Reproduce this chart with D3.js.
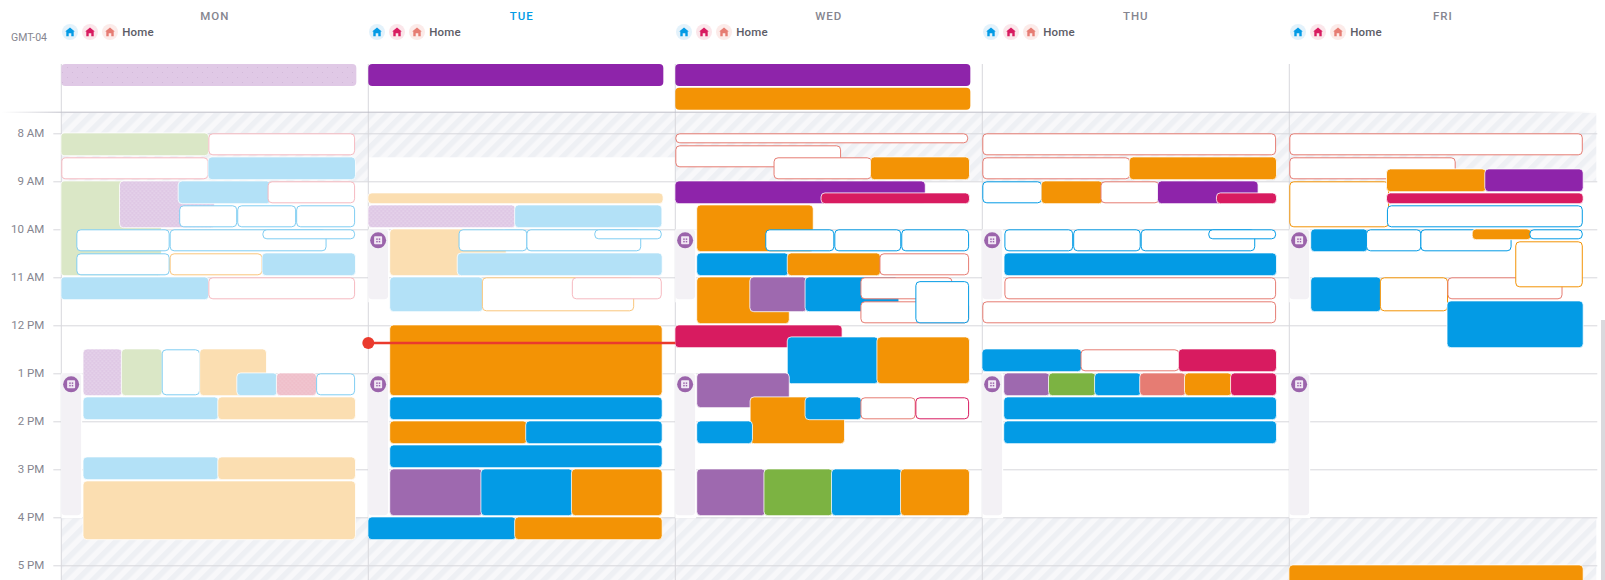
<!DOCTYPE html>
<html>
<head>
<meta charset="utf-8">
<script src="https://d3js.org/d3.v7.min.js"></script>
<style>
html,body{margin:0;padding:0;background:#fff;overflow:hidden}
svg{display:block;font-family:Roboto,sans-serif}
</style>
</head>
<body>
<svg id="chart" width="1605" height="580"></svg>
<script>
// ---------- data ----------
const days = ["MON","TUE","WED","THU","FRI"];
const currentDay = "TUE";
const hourTicks = [8,9,10,11,12,13,14,15,16,17];
const hourLabels = ["8 AM","9 AM","10 AM","11 AM","12 PM","1 PM","2 PM","3 PM","4 PM","5 PM"];
const timezoneLabel = "GMT-04";
const locationLabel = "Home";
const locationKinds = ["blue","crimson","salmon"];
const nowHour = 12.37;
const closedUntil = [9, 8.5, 9, 9, 9];
const closedFrom = 16;
const gutterBlocks = [
  [["MON",13,16]],
  [["TUE",10,11.5],["TUE",13,16]],
  [["WED",10,11.5],["WED",13,16]],
  [["THU",10,11.5],["THU",13,16]],
  [["FRI",10,11.5],["FRI",13,16]]
];
// all-day rows: [day, row, kind]
const allDayEvents = [
  ["MON",0,"purpleSparse"],
  ["TUE",0,"purple"],
  ["WED",0,"purple"],
  ["WED",1,"orange"]
];
// timed rows: [start hour, end hour, lane start %, lane end %, kind]
const monEvents = [
  [8,8.5,0,47.9,"greenL"],[8,8.5,47.9,95.7,"oPinkL"],
  [8.5,9,0,47.9,"oPinkL"],[8.5,9,47.9,95.7,"blueL"],
  [9,11,0,32.5,"greenL"],[9,10,19.1,49.8,"purpleL"],
  [9,9.5,38.2,68,"blueL"],[9,9.5,67.2,95.7,"oPinkL"],
  [9.5,10,38.4,57.3,"oBlueL"],[9.5,10,57.3,76.5,"oBlueL"],[9.5,10,76.5,95.7,"oBlueL"],
  [10,10.5,4.9,35.3,"oBlueL"],[10,10.5,35.3,86.4,"oBlueL"],[10,10.25,65.5,95.7,"oBlueL"],
  [10.5,11,4.9,35.3,"oBlueL"],[10.5,11,35.3,65.5,"oOrangeL"],[10.5,11,65.5,95.7,"blueL"],
  [11,11.5,0,47.9,"blueL"],[11,11.5,47.9,95.7,"oPinkL"],
  [12.5,13.5,7.2,19.7,"purpleL"],[12.5,13.5,19.7,32.7,"greenL"],[12.5,13.5,32.7,45.2,"oBlueL"],[12.5,13.5,45.2,66.7,"peach"],
  [13,13.5,57.3,70.2,"blueL"],[13,13.5,70.2,83,"pinkL"],[13,13.5,83,95.7,"oBlueL"],
  [13.5,14,7.2,51.1,"blueL"],[13.5,14,51.1,95.7,"peach"],
  [14.75,15.25,7.2,51.1,"blueL"],[14.75,15.25,51.1,95.7,"peach"],
  [15.25,16.5,7.2,95.7,"peach"]
];
const tueEvents = [
  [9.25,9.5,0,95.9,"peach"],
  [9.5,10,0,47.8,"purpleL"],[9.5,10,47.8,95.5,"blueL"],
  [10,11,7.1,44.8,"peach"],
  [10,10.5,29.4,51.8,"oBlueL"],[10,10.5,51.5,88.9,"oBlueL"],[10,10.25,73.6,95.6,"oBlueL"],
  [10.5,11,29.1,95.6,"blueL"],
  [11,11.75,7.1,37.2,"blueL"],[11,11.75,37,86.6,"oOrangeL"],[11,11.5,66.3,95.6,"oPinkL"],
  [12,13.5,7.1,95.6,"orange"],
  [13.5,14,7.1,95.6,"blue"],
  [14,14.5,7.1,51.6,"orange"],[14,14.5,51.4,95.6,"blue"],
  [14.5,15,7.1,95.6,"blue"],
  [15,16,7.1,37,"purpleM"],[15,16,36.8,66.5,"blue"],[15,16,66.3,95.6,"orange"],
  [16,16.5,0,48,"blue"],[16,16.5,47.8,95.6,"orange"]
];
const wedEvents = [
  [8,8.25,0,95.4,"oSalmon"],
  [8.25,8.75,0,54,"oSalmon"],
  [8.5,9,32,64,"oSalmon"],[8.5,9,63.7,95.7,"orange"],
  [9,9.5,0,81.3,"purple"],[9.25,9.5,47.6,95.7,"crimson"],
  [9.5,10.5,7.1,44.8,"orange"],
  [10,10.5,29.3,51.8,"oBlue"],[10,10.5,51.8,73.6,"oBlue"],[10,10.5,73.6,95.7,"oBlue"],
  [10.5,11,7.1,36.8,"blue"],[10.5,11,36.6,66.7,"orange"],[10.5,11,66.5,95.7,"oSalmon"],
  [11,12,7.1,37,"orange"],
  [11,11.75,24.4,42.7,"purpleM"],[11,11.75,42.4,72.7,"blue"],
  [11,11.5,60.3,90.3,"oSalmon"],[11.5,12,60.3,95.7,"oSalmon"],[11.08,12,78.2,95.7,"oBlue"],
  [12,12.5,0,54.2,"crimson"],
  [12.25,13.25,36.6,66,"blue"],[12.25,13.25,65.8,95.7,"orange"],
  [13,13.75,7.1,37,"purpleM"],
  [13.5,14.5,24.5,55,"orange"],
  [13.5,14,42.4,60.5,"blue"],[13.5,14,60.3,78.3,"oSalmon"],[13.5,14,78.2,95.7,"oCrimson"],
  [14,14.5,7.1,25,"blue"],
  [15,16,7.1,29.2,"purpleM"],[15,16,29,51.2,"green"],[15,16,51,73.7,"blue"],[15,16,73.5,95.7,"orange"]
];
const thuEvents = [
  [8,8.5,0,95.7,"oSalmon"],
  [8.5,9,0,48.2,"oSalmon"],[8.5,9,48,95.7,"orange"],
  [9,9.5,0,19.5,"oBlue"],[9,9.5,19.3,39.1,"orange"],[9,9.5,38.5,57.7,"oSalmon"],[9,9.5,57.2,89.7,"purple"],[9.25,9.5,76.4,95.7,"crimson"],
  [10,10.5,7.2,29.6,"oBlue"],[10,10.5,29.6,51.6,"oBlue"],[10,10.5,51.6,88.9,"oBlue"],[10,10.25,73.6,95.7,"oBlue"],
  [10.5,11,7.2,95.7,"blue"],
  [11,11.5,7.2,95.7,"oSalmon"],
  [11.5,12,0,95.7,"oSalmon"],
  [12.5,13,0,32.2,"blue"],[12.5,13,32,64.2,"oSalmon"],[12.5,13,64,95.7,"crimson"],
  [13,13.5,7.1,21.9,"purpleM"],[13,13.5,21.7,36.9,"green"],[13,13.5,36.7,51.6,"blue"],[13,13.5,51.4,66.2,"salmon"],[13,13.5,66,81.2,"orange"],[13,13.5,81,95.7,"crimson"],
  [13.5,14,7.1,95.7,"blue"],
  [14,14.5,7.1,95.7,"blue"]
];
const friEvents = [
  [8,8.5,0,95.6,"oSalmon"],
  [8.5,9,0,54.2,"oSalmon"],
  [9,10,0,32.5,"oOrange"],
  [8.75,9.25,31.8,64,"orange"],[8.75,9.25,63.8,95.6,"purple"],
  [9.25,9.5,31.8,95.6,"crimson"],
  [9.5,10,31.8,95.6,"oBlue"],
  [10,10.5,7.1,25.4,"blue"],[10,10.5,25,43,"oBlue"],[10,10.5,42.7,72.4,"oBlue"],
  [10,10.25,59.7,78.6,"orange"],[10,10.25,78.2,95.6,"oBlue"],
  [11,11.75,7.1,29.7,"blue"],[11,11.75,29.5,51.7,"oOrange"],[11,11.5,51.5,89,"oSalmon"],
  [10.25,11.25,73.6,95.6,"oOrange"],
  [11.5,12.5,51.5,95.6,"blue"],
  [17,18,0,95.6,"orange"]
];
const eventsByDay = [monEvents, tueEvents, wedEvents, thuEvents, friEvents];

// ---------- styles ----------
const solid = {
  purple:"#8e24aa", orange:"#f39305", blue:"#039be5", crimson:"#d81b60",
  purpleM:"#9e69af", green:"#7cb342", salmon:"#e67c73",
  peach:"#fbdeb1", blueL:"#b3e1f7", greenL:"#dae7c6",
  purpleL:"url(#dotPurple)", pinkL:"url(#dotPink)", purpleSparse:"url(#dotSparse)"
};
const outline = {
  oSalmon:"#e67c73", oBlue:"#039be5", oOrange:"#f39305", oCrimson:"#d81b60",
  oPinkL:"#f6b9c0", oBlueL:"#7fcdf2", oOrangeL:"#fac67c"
};
const iconColors = {blue:"#039be5", crimson:"#d81b60", salmon:"#e67c73"};
const iconBacks = {blue:"#e3f2fb", crimson:"#fbe6ea", salmon:"#fcebe9"};
const gridColor = "#d8d8dc", mutedText = "#85858f";

// ---------- scales ----------
const svg = d3.select("#chart");
const dayX = d3.scaleBand().domain(days).range([61.3,1596.3]);
const laneX = d3.scaleLinear().domain([0,100]).range([0,dayX.bandwidth()]);
const hourY = d3.scaleLinear().domain([8,17]).range([133.3,565.3]);
const rowY = d3.scaleLinear().domain([0,1]).range([64,87.7]);
const topHour = hourY.invert(113), bottomHour = hourY.invert(580);

// ---------- defs ----------
const defs = svg.append("defs");
const hatch = defs.append("pattern").attr("id","hatch").attr("patternUnits","userSpaceOnUse")
  .attr("width",11).attr("height",11).attr("patternTransform","rotate(45)");
hatch.append("rect").attr("width",11).attr("height",11).attr("fill","#f8f8fa");
hatch.append("rect").attr("width",5.5).attr("height",11).attr("fill","#eef0f4");
function dots(id,bg,dot,size,r){
  const p = defs.append("pattern").attr("id",id).attr("patternUnits","userSpaceOnUse").attr("width",size).attr("height",size);
  p.append("rect").attr("width",size).attr("height",size).attr("fill",bg);
  p.append("circle").attr("cx",size/4).attr("cy",size/4).attr("r",r).attr("fill",dot);
  p.append("circle").attr("cx",size*3/4).attr("cy",size*3/4).attr("r",r).attr("fill",dot);
}
dots("dotPurple","#dfc8e5","#f3eaf6",4,.6);
dots("dotPink","#efbfca","#f6d8df",4,.6);
dots("dotSparse","#e0c9e6","#c4a9cc",10,.45);
const fade = defs.append("linearGradient").attr("id","fadeLine");
[[0,"#fff"],[.04,"#bcbcc6"],[.94,"#bcbcc6"],[1,"#fff"]].forEach(s=>
  fade.append("stop").attr("offset",s[0]).attr("stop-color",s[1]));

// ---------- closed hours ----------
days.forEach((d,i)=>{
  const c = svg.append("g").attr("fill","url(#hatch)");
  c.append("rect").attr("x",dayX(d)).attr("width",dayX.bandwidth())
    .attr("y",hourY(topHour)).attr("height",hourY(closedUntil[i])-hourY(topHour));
  c.append("rect").attr("x",dayX(d)).attr("width",dayX.bandwidth())
    .attr("y",hourY(closedFrom)).attr("height",hourY(bottomHour)-hourY(closedFrom));
});

// ---------- grid + axis ----------
const axis = d3.axisLeft(hourY).tickValues(hourTicks)
  .tickFormat((d,i)=>hourLabels[i]).tickSizeInner(8).tickSizeOuter(0).tickPadding(9);
const ag = svg.append("g").attr("transform",`translate(${dayX.range()[0]},0)`).call(axis);
ag.select(".domain").remove();
ag.selectAll("line").attr("stroke",gridColor);
ag.selectAll("text").attr("fill",mutedText).attr("font-size",11.5).attr("font-family","Roboto");
const grid = d3.axisRight(hourY).tickValues(hourTicks).tickFormat("").tickSizeInner(1536).tickSizeOuter(0);
const gg = svg.append("g").attr("transform",`translate(${dayX.range()[0]},0)`).call(grid);
gg.select(".domain").remove();
gg.selectAll("line").attr("stroke",gridColor);

svg.append("g").selectAll("line").data(days).join("line")
  .attr("x1",d=>dayX(d)).attr("x2",d=>dayX(d)).attr("y1",rowY(0)).attr("y2",580)
  .attr("stroke",gridColor);

svg.append("rect").attr("x",2).attr("y",111.7).attr("width",1594).attr("height",1).attr("fill","url(#fadeLine)");

// ---------- headers ----------
svg.append("g").selectAll("text").data(days).join("text")
  .attr("x",d=>dayX(d)+dayX.bandwidth()/2).attr("y",20)
  .attr("text-anchor","middle").attr("font-size",11.5).attr("font-weight",500).attr("letter-spacing",1)
  .attr("fill",d=>d===currentDay?"#039be5":mutedText).text(d=>d);

svg.append("text").attr("x",11).attr("y",41).attr("font-size",10.5).attr("fill",mutedText).text(timezoneLabel);

const housePath = "M0,-4.6L4.8,-.6L3.7,-.6L3.7,4.2L1.3,4.2L1.3,1.2L-1.3,1.2L-1.3,4.2L-3.7,4.2L-3.7,-.6L-4.8,-.6Z";
const iconStep = d3.scalePoint().domain(locationKinds).range([8.7,48.7]);
days.forEach(d=>{
  const g = svg.append("g").attr("transform",`translate(${dayX(d)},32)`);
  const ic = g.selectAll("g").data(locationKinds).join("g").attr("transform",k=>`translate(${iconStep(k)},0)`);
  ic.append("circle").attr("r",8).attr("fill",k=>iconBacks[k]);
  ic.append("path").attr("d",housePath).attr("fill",k=>iconColors[k]);
  g.append("text").attr("x",61).attr("y",4).attr("font-size",11.5).attr("font-weight",500)
    .attr("letter-spacing",.15).attr("fill","#5c5c66").text(locationLabel);
});

// ---------- gutters ----------
gutterBlocks.flat().forEach(([d,s,e])=>{
  const g = svg.append("g");
  const x = dayX(d);
  g.append("rect").attr("x",x).attr("y",hourY(s)).attr("width",laneX(6.8)).attr("height",hourY(e)-hourY(s)+1).attr("fill","#fff");
  g.append("rect").attr("x",x).attr("y",hourY(s)).attr("width",laneX(6.45)).attr("height",hourY(e)-hourY(s)-2)
    .attr("rx",4).attr("fill","#f3f1f5");
  const cx = x+laneX(3.2), cy = hourY(s)+11;
  g.append("circle").attr("cx",cx).attr("cy",cy).attr("r",8).attr("fill","#9b64ab");
  g.append("rect").attr("x",cx-4).attr("y",cy-4).attr("width",8).attr("height",8).attr("rx",.8).attr("fill","#f2e9f5");
  [[-1.9,-1.9],[.6,-1.9],[-1.9,.6],[.6,.6]].forEach(o=>
    g.append("rect").attr("x",cx+o[0]).attr("y",cy+o[1]).attr("width",1.5).attr("height",1.5).attr("fill","#9b64ab"));
});

// ---------- events ----------
svg.append("g").selectAll("rect").data(allDayEvents.map(e=>({day:e[0],row:e[1],kind:e[2]}))).join("rect")
  .attr("x",d=>dayX(d.day)).attr("width",laneX(96.1))
  .attr("y",d=>rowY(d.row)).attr("height",rowY(1)-rowY(0)-1.7)
  .attr("rx",4).attr("fill",d=>solid[d.kind]);

// outlined events sit inside their box; solid ones keep a hairline white edge outside the fill
const inset = d => outline[d.kind] ? .5 : -.4;
days.forEach((day,i)=>{
  const rows = eventsByDay[i].map(r=>({start:r[0],end:r[1],a:r[2],b:r[3],kind:r[4]}));
  svg.append("g").attr("transform",`translate(${dayX(day)},0)`)
    .selectAll("rect").data(rows).join("rect")
    .attr("x",d=>laneX(d.a)+inset(d)).attr("width",d=>laneX(d.b)-laneX(d.a)-2*inset(d))
    .attr("y",d=>hourY(d.start)+inset(d)).attr("height",d=>hourY(d.end)-hourY(d.start)-2-2*inset(d))
    .attr("rx",4)
    .attr("fill",d=>outline[d.kind]?"#fff":solid[d.kind])
    .attr("stroke",d=>outline[d.kind]||"#fff")
    .attr("stroke-width",d=>outline[d.kind]?1:.8);
});

// ---------- now marker ----------
const nowStart = dayX(currentDay);
const nowEnd = dayX(days[days.indexOf(currentDay)+1]);
svg.append("line").attr("x1",nowStart).attr("x2",nowEnd).attr("y1",hourY(nowHour)).attr("y2",hourY(nowHour))
  .attr("stroke","#ea3a2d").attr("stroke-width",2.4);
svg.append("circle").attr("cx",nowStart).attr("cy",hourY(nowHour)).attr("r",6).attr("fill","#ea3a2d");

// ---------- scrollbar ----------
svg.append("rect").attr("x",1601).attr("y",320).attr("width",4).attr("height",260).attr("fill","#d9d9dd");
</script>
</body>
</html>
